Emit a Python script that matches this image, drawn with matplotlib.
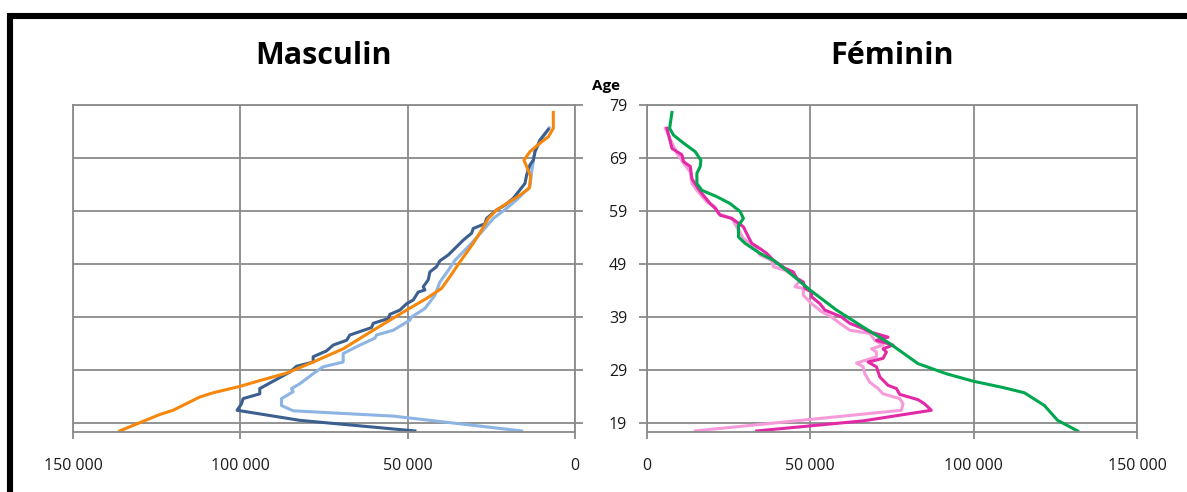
import matplotlib
matplotlib.use("Agg")
import matplotlib.pyplot as plt
from matplotlib.lines import Line2D
from matplotlib.ticker import FuncFormatter

plt.rcParams["font.family"] = ["Open Sans", "DejaVu Sans"]

# ---- hommes (left panel) ----
m_orange_age = [77.6, 74.6, 73.0, 71.8, 70.2, 68.6, 67.4, 65.5, 63.3, 62.0, 60.4, 59.2, 57.6,
                55.4, 52.9, 49.4, 46.6, 44.4, 42.5, 40.3, 36.5, 33.0, 30.5, 28.4, 27.0, 25.9,
                24.7, 23.9, 21.4, 20.6, 17.5]
m_orange_val = [6480, 6480, 7970, 10465, 13455, 15250, 14450, 13255, 13655, 16445, 20430, 23420,
                25910, 27900, 30400, 34385, 37375, 39870, 44350, 50330, 60300, 69270, 78240,
                86215, 94190, 100170, 108140, 112130, 120100, 124090, 136050]

m_dark_age = [74.4, 72.4, 70.2, 68.6, 67.7, 65.8, 64.2, 63.0, 61.4, 60.1, 59.2, 57.6, 56.6, 55.7,
              54.8, 53.5, 50.7, 49.6, 48.5, 47.5, 46.0, 44.7, 44.1, 43.7, 42.2, 41.5, 40.9, 40.3,
              39.5, 38.7, 37.8, 37.0, 35.6, 34.6, 33.7, 32.6, 31.5, 30.5, 29.7, 28.6, 25.5, 24.5,
              23.6, 22.6, 21.4, 19.5, 17.5]
m_dark_val = [7970, 10465, 11960, 12460, 13455, 14450, 14950, 16445, 18440, 20930, 23420, 26410,
              26910, 30400, 30900, 33390, 37875, 40370, 41365, 43360, 43860, 45350, 44850, 46845,
              48340, 50330, 51330, 52325, 55320, 55815, 60300, 60800, 67275, 68270, 72260, 74255,
              78240, 78240, 83225, 85215, 94190, 94190, 99170, 99670, 100965, 82230, 47840]

m_light_age = [74.7, 72.1, 70.2, 68.3, 66.4, 63.6, 61.1, 59.5, 57.6, 55.4, 52.6, 49.7, 47.8, 45.6,
               43.1, 40.6, 39.0, 38.4, 36.5, 35.6, 35.0, 33.7, 32.1, 30.5, 29.6, 28.3, 26.4, 25.5,
               24.9, 23.6, 22.3, 21.3, 20.3, 17.5]
m_light_val = [7675, 10465, 11960, 12460, 12955, 13455, 17440, 20430, 24415, 27400, 31390, 35875,
               37870, 40370, 41865, 44850, 48840, 49335, 54320, 59300, 59800, 64290, 69270, 69270,
               75250, 78240, 82225, 84720, 84220, 87710, 87710, 84220, 54320, 15950]

# ---- femmes (right panel) ----
f_green_age = [77.6, 74.6, 73.3, 71.8, 70.2, 68.6, 67.4, 66.1, 64.2, 62.9, 61.7, 60.4, 58.9, 57.6,
               56.3, 54.1, 52.9, 51.0, 49.7, 47.8, 44.1, 40.3, 37.1, 34.0, 30.2, 28.3, 26.9, 25.7,
               24.7, 22.3, 19.5, 17.5]
f_green_val = [7635, 6925, 8145, 11200, 14760, 16490, 16290, 15270, 15270, 16800, 21380, 25450,
               28500, 29520, 28000, 28000, 30030, 34600, 38700, 42760, 49880, 58030, 66170, 74300,
               82960, 91600, 99760, 108920, 115540, 121650, 125700, 131830]

f_dark_age = [74.6, 70.8, 69.6, 68.3, 67.4, 65.1, 63.6, 62.3, 60.4, 59.5, 58.2, 57.6, 56.0, 54.1,
              52.9, 51.9, 51.0, 49.7, 48.2, 47.5, 46.3, 45.6, 44.4, 43.7, 42.8, 41.5, 40.3, 39.0,
              37.8, 36.8, 36.2, 35.2, 34.6, 33.7, 33.0, 32.4, 31.2, 30.5, 29.6, 27.7, 26.1, 25.5,
              24.4, 23.4, 22.6, 21.4, 19.4, 17.5]
f_dark_val = [6110, 7640, 10690, 11200, 13240, 13750, 15270, 16800, 19340, 20870, 22400, 25960,
              29520, 31050, 32060, 34610, 36650, 38700, 42260, 44800, 45820, 47850, 48360, 50400,
              50400, 52940, 54470, 59560, 62100, 66170, 68200, 73800, 70240, 75320, 72270, 73300,
              72270, 67690, 70240, 71260, 73800, 76350, 77370, 82960, 85000, 87040, 66170, 33600]

f_light_age = [74.6, 71.8, 69.9, 68.0, 66.4, 64.2, 62.9, 60.7, 59.8, 58.5, 57.6, 56.0, 53.8, 52.2,
               50.7, 49.7, 48.5, 47.8, 47.2, 45.9, 44.7, 44.4, 43.1, 41.5, 40.0, 39.0, 37.8, 36.5,
               35.9, 34.6, 33.7, 33.0, 32.4, 31.5, 30.3, 29.6, 28.3, 26.7, 25.5, 24.5, 23.6, 22.6,
               21.4, 17.5]
f_light_val = [5600, 7640, 9160, 11200, 13240, 13750, 15270, 18320, 20870, 21890, 25960, 27490,
               29520, 33100, 34610, 38190, 38700, 42260, 43780, 46840, 45300, 47850, 47850, 50400,
               53450, 56500, 59050, 62100, 68200, 69730, 72270, 68710, 70240, 70240, 64140, 66170,
               66680, 68200, 70750, 72270, 77370, 78390, 77880, 14760]

age_ticks = [19, 29, 39, 49, 59, 69, 79]
x_ticks = [0, 50000, 100000, 150000]

GRID = "#8a8a8a"
LW = 2.2

fig = plt.figure(figsize=(11.87, 4.92), dpi=100)
W, H = 1187, 492
axm = fig.add_axes([73 / W, (H - 432) / H, 502 / W, 327 / H])
axf = fig.add_axes([647 / W, (H - 432) / H, 490 / W, 327 / H])

axm.plot(m_light_val, m_light_age, color="#8db4e2", lw=LW)
axm.plot(m_dark_val, m_dark_age, color="#3b5f8e", lw=LW)
axm.plot(m_orange_val, m_orange_age, color="#f5870c", lw=LW)

axf.plot(f_light_val, f_light_age, color="#f59bd9", lw=LW)
axf.plot(f_dark_val, f_dark_age, color="#e22aa6", lw=LW)
axf.plot(f_green_val, f_green_age, color="#00a650", lw=LW)

thousands = FuncFormatter(lambda v, _: f"{int(v):,}".replace(",", " "))

for ax in (axm, axf):
    ax.set_ylim(17.3, 79)
    ax.set_yticks(age_ticks)
    ax.set_xticks(x_ticks)
    ax.xaxis.set_major_formatter(thousands)
    ax.grid(True, color=GRID, lw=1.3)
    ax.set_axisbelow(True)
    for s in ax.spines.values():
        s.set_color(GRID)
        s.set_linewidth(1.3)
    ax.tick_params(colors=GRID, width=1.3, labelcolor="#1a1a1a", labelsize=11.5)
    ax.tick_params(axis="x", direction="out", length=5, pad=14)
    ax.tick_params(axis="y", direction="out", length=6)

axm.set_xlim(150000, 0)
axf.set_xlim(0, 150000)

# age labels sit between the two panels
axm.yaxis.tick_right()
axm.tick_params(axis="y", labelright=True, pad=25)
for lab in axm.get_yticklabels():
    lab.set_horizontalalignment("center")
axf.tick_params(axis="y", labelleft=False)

axm.text(0.5, 1.15, "Masculin", transform=axm.transAxes, ha="center", va="center",
         fontsize=22, fontweight="bold")
axf.text(0.5, 1.15, "Féminin", transform=axf.transAxes, ha="center", va="center",
         fontsize=22, fontweight="bold")
fig.text(606 / W, 1 - 86 / H, "Age", ha="center", va="center", fontsize=11, fontweight="bold")

# heavy frame along the top and left edges
fig.add_artist(Line2D([10 / W, 1], [1 - 16 / H, 1 - 16 / H], color="black", lw=4.4,
                      transform=fig.transFigure, solid_capstyle="butt"))
fig.add_artist(Line2D([10 / W, 10 / W], [0, 1 - 13 / H], color="black", lw=4.4,
                      transform=fig.transFigure, solid_capstyle="butt"))

fig.savefig("out.png", dpi=100)
